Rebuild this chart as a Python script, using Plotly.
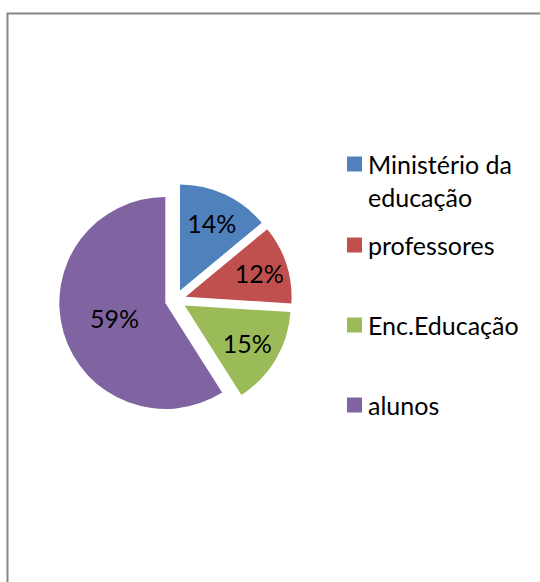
import plotly.graph_objects as go

# Data
categories = ["Ministério da<br>educação", "professores", "Enc.Educação", "alunos"]
values = [14, 12, 15, 59]
colors = ["#4F81BD", "#C0504D", "#9BBB59", "#8064A2"]

W, H = 540, 582
FONT = "Lato"
FS = 25

# Pie geometry (pixels)
cx, cy, r, pull = 175.5, 300.0, 106.0, 0.10
half = r * (1 + pull)
dom_x = [(cx - half) / W, (cx + half) / W]
dom_y = [1 - (cy + half) / H, 1 - (cy - half) / H]

fig = go.Figure(
    go.Pie(
        labels=categories,
        values=values,
        marker=dict(colors=colors, line=dict(width=0)),
        sort=False,
        direction="clockwise",
        rotation=0,
        pull=[pull] * len(values),
        textinfo="percent",
        texttemplate="%{percent:.0%}",
        textposition="inside",
        insidetextorientation="horizontal",
        textfont=dict(family=FONT, size=FS, color="#000000"),
        domain=dict(x=dom_x, y=dom_y),
        showlegend=False,
        hoverinfo="label+percent",
    )
)

# Legend drawn as squares plus text
leg_x = 347
sq = 15
leg_centers = [164, 245, 325, 405]
shapes = []
annotations = []
for i, (lab, col) in enumerate(zip(categories, colors)):
    yc = leg_centers[i]
    shapes.append(dict(
        type="rect", xref="paper", yref="paper",
        x0=leg_x / W, x1=(leg_x + sq) / W,
        y0=1 - (yc + sq / 2) / H, y1=1 - (yc - sq / 2) / H,
        fillcolor=col, line=dict(width=0),
    ))
    nlines = lab.count("<br>") + 1
    ytext = yc + (nlines - 1) * 16.5
    annotations.append(dict(
        text=lab, xref="paper", yref="paper",
        x=(leg_x + sq + 4) / W, y=1 - ytext / H,
        xanchor="left", yanchor="middle", align="left",
        showarrow=False,
        font=dict(family=FONT, size=FS, color="#000000"),
    ))

# Chart frame
shapes.append(dict(
    type="rect", xref="paper", yref="paper",
    x0=7.5 / W, x1=1.05, y0=-0.05, y1=1 - 13.5 / H,
    line=dict(color="#868686", width=2), fillcolor="rgba(0,0,0,0)",
    layer="below",
))

fig.update_layout(
    width=W, height=H,
    margin=dict(l=0, r=0, t=0, b=0),
    paper_bgcolor="#FFFFFF",
    plot_bgcolor="#FFFFFF",
    shapes=shapes,
    annotations=annotations,
    uniformtext=dict(minsize=FS, mode="show"),
)

fig.write_html("out.html")
